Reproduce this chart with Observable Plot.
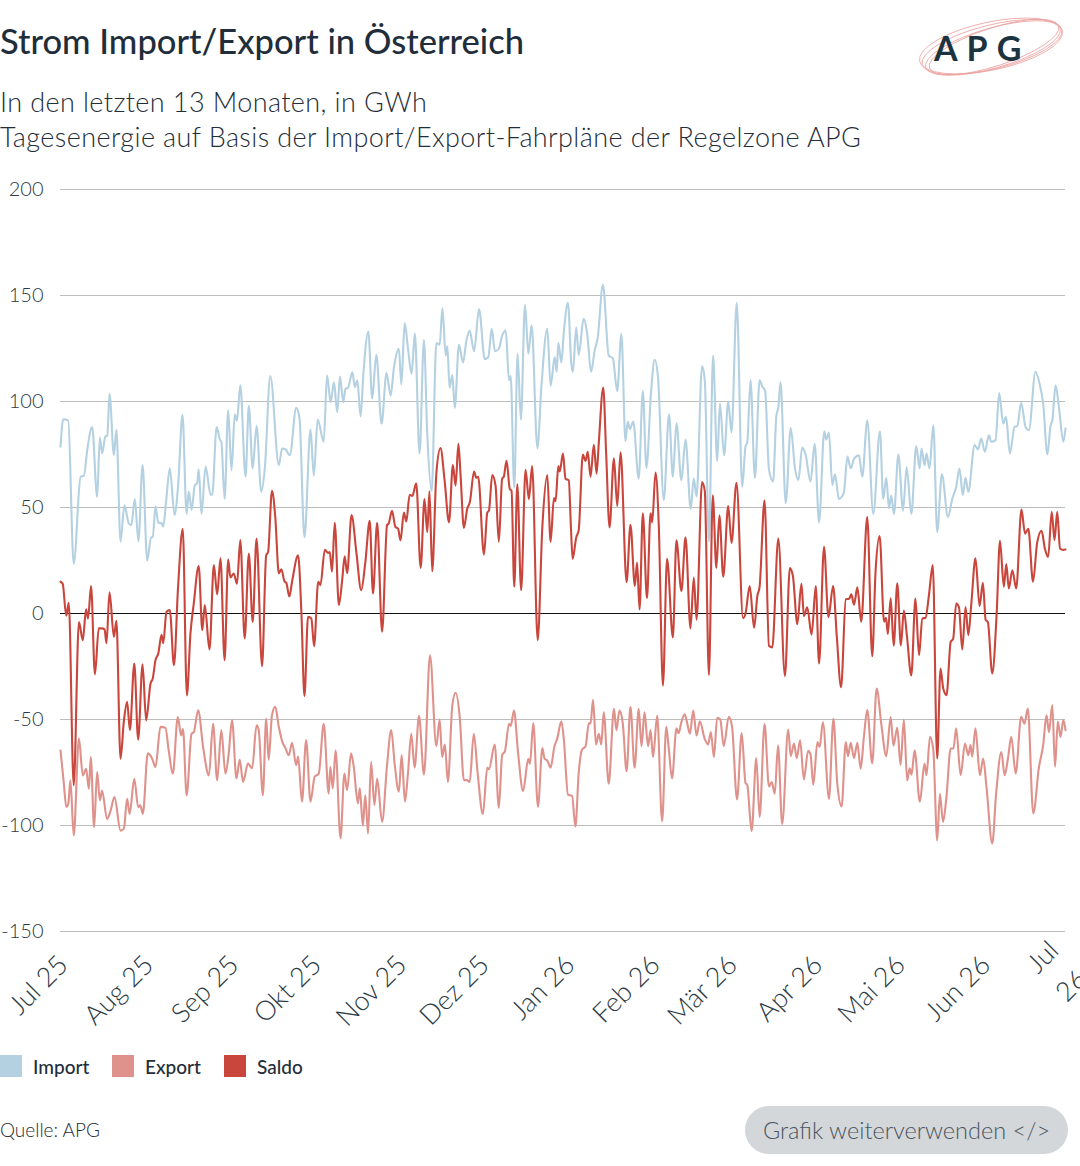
<!DOCTYPE html>
<html lang="de">
<head>
<meta charset="utf-8">
<script src="https://cdn.jsdelivr.net/npm/d3@7"></script>
<script src="https://cdn.jsdelivr.net/npm/@observablehq/plot@0.6"></script>
<style>
  html, body { margin: 0; padding: 0; background: #fff; }
  body { width: 1080px; height: 1166px; position: relative; overflow: hidden; font-family: Lato, "Noto Sans", sans-serif; color: #1f2e3a; }
  .abs { position: absolute; white-space: nowrap; }
  #title { left: 0; top: 21px; font-size: 34.5px; line-height: 40px; font-weight: 500; }
  .sub { left: 0; font-size: 27px; line-height: 32px; font-weight: 300; letter-spacing: 0.4px; }
  #chart { left: 0; top: 160px; }
  .leg { top: 1055px; height: 22px; display: flex; align-items: center; font-size: 19px; font-weight: 500; }
  .sw { width: 22px; height: 22px; margin-right: 11px; }
  #source { left: 0; top: 1118px; font-size: 19px; line-height: 24px; font-weight: 300; }
  #btn { left: 745px; top: 1106px; width: 323px; height: 48px; border-radius: 24px; background: #d4d7da; color: #4a5560; font-size: 23.5px; display: flex; align-items: center; justify-content: center; font-weight: 300; }
</style>
</head>
<body>
<div id="title" class="abs">Strom Import/Export in Österreich</div>
<div class="abs sub" style="top:86px">In den letzten 13 Monaten, in GWh</div>
<div class="abs sub" style="top:121px">Tagesenergie auf Basis der Import/Export-Fahrpläne der Regelzone APG</div>
<svg class="abs" style="left:912px;top:10px" width="160" height="75" viewBox="0 0 160 75">
  <g fill="none" stroke="#ec9a98" stroke-width="0.8" opacity="0.9">
    <ellipse cx="80" cy="37" rx="72" ry="22" transform="rotate(-14 80 37)"/>
    <ellipse cx="81" cy="38" rx="70" ry="20" transform="rotate(-16 81 38)"/>
    <ellipse cx="79" cy="36" rx="73" ry="24" transform="rotate(-12 79 36)"/>
    <ellipse cx="82" cy="37" rx="68" ry="19" transform="rotate(-18 82 37)"/>
  </g>
  <text x="22" y="51" font-family="Lato, sans-serif" font-size="34" font-weight="700" fill="#1b3440" letter-spacing="9">APG</text>
</svg>
<div id="chart" class="abs"></div>
<div class="abs leg" style="left:0"><div class="sw" style="background:#b4d1e2"></div>Import</div>
<div class="abs leg" style="left:112px"><div class="sw" style="background:#df928b"></div>Export</div>
<div class="abs leg" style="left:224px"><div class="sw" style="background:#c9463d"></div>Saldo</div>
<div id="source" class="abs">Quelle: APG</div>
<div id="btn" class="abs">Grafik weiterverwenden &lt;/&gt;</div>
<script>
// Day offsets from 1 July 2025 and values in GWh
const importDays = [0,1,2.8,4.8,7.3,8.5,9.7,11.5,13.3,14.3,15.1,16.3,17,17.8,19.4,20.3,21.8,23.2,24.8,25.7,27,28.3,29.8,31.5,32.9,33.5,34.5,35.5,36.7,37.3,38.4,39.7,41.4,42.7,44.3,45.8,46.6,47.6,48.8,49.6,50.2,51.2,52.7,54.5,55.1,56.7,57.9,58.4,59.6,60.9,62.1,63.3,64.1,65.3,67.2,68.4,69.8,71.2,72.9,74.2,76.2,79.3,80.5,81.7,83.3,85.6,86.8,88.6,90.8,92,93.4,95.6,96.8,98.1,99.3,100.5,101.5,102.7,103.5,104.4,106,106.9,107.8,109,110,111.8,113.2,114.7,116.6,118.4,119.9,121.1,122.9,123.8,125,126.2,127.5,128.7,130.4,132,133.2,134.8,136.5,137.7,138.7,139.9,140.5,141.3,142.3,143.2,144.7,146.2,147.4,148.6,150.2,152,154.1,155.4,156.6,157.8,159.2,160.4,161.7,162.9,163.5,164.8,166,167.2,168.7,169.9,171.1,173.2,174.7,176.8,178,179.5,180.2,180.8,181.9,182.8,184.3,185.5,186.1,187.3,188.2,190,191.3,192.7,194,195.1,197,199.1,200.6,202.2,203.7,205.2,206,206.8,208,210,211.5,212.8,214.5,215.8,217,219.1,221,222.4,223.7,225.5,227,228.9,230,231,233,234,235.5,237,238.5,239.5,241,242.5,243.7,245.6,247.6,248.8,249.4,250.6,252.2,253.9,254.9,255.9,257.3,258.8,260,260.7,261.5,263.4,265.2,266.8,268,269.4,270.6,272.4,273.9,275.5,277.4,278.1,279.1,280.3,281.3,282.7,284.5,285.8,287,288.2,290,291.2,293,295.2,297.6,298.8,299.9,300.9,301.7,302.7,304.3,306,307.3,309,310.8,312,312.7,313.8,314.5,315.6,317,318.4,320.1,322.3,323.9,325.3,326.5,327.7,328.7,329.7,332,333.2,334.4,335.7,337.2,338,339.6,340.9,342.4,343.4,344.8,346.5,347.5,348.9,350.5,351.7,354.1,355.7,356.9,358.4,359.6,360.2,361.4,362.6,364.2,365];
const importValues = [78.7,91.6,91,23.5,64.5,65,77,88,55,83,75.6,83.5,84,103.6,74.8,86.6,33.9,51,42.5,41.7,54,34,70,25,36,36,50.4,43,42.5,41,53.5,68.5,46.5,60,93.7,47,57.5,48.8,60.6,61.4,68,47,69.3,56,56,88,82,81,54,96,67.6,94,91,107.7,64.5,98,68.4,88.4,57.4,68.4,112,70,77.8,77.5,74.7,97,92,36,86.8,65,91.5,81,112.4,99.7,109,95,111.8,99.7,106,106.4,113.8,106.8,110,93,113,133,101.3,122,89.5,113.4,102.8,116,124.8,108,137,125,113,132,75.4,129,84.7,57.7,127.6,126.8,144,121.7,126,106.6,112.5,97,126.8,118.4,128.5,133.5,123.7,143.6,120,121,134.3,123.7,125,131,133.5,110,112,59.4,122.5,91.4,145.6,122.5,136,78,108,134.3,107.4,121,114,127.6,118.4,132.7,146.6,118,114,135,122,139,131.8,114,124,130,155,121.7,120.4,104.9,131.8,81.3,90.6,87,90.6,63.6,104.9,68.7,104.9,119.7,111.6,53.5,94,64.5,89.7,62.8,82,49.3,63.6,55.2,116.7,110,34,121.7,72,99,74.6,99.8,85.5,146.6,59.8,79,80.5,110,64,110,107,105,68,62.3,93.4,97,109,52,87.5,68,63,78.3,75,62.3,80,43,86,82,85.4,60.6,65.7,54,57,74,68.5,73,74.6,64.5,91,47,86,54,64,49.7,55.6,47,75,48.5,69,47,79,68.4,77.8,70,75.5,68.4,88.8,38.5,65.7,45.6,54.2,59.7,68.4,55.8,64,57.4,79.4,77.4,82.5,76.3,84,81,81.8,104,89.6,92.8,75.5,88,88.5,99.4,88,86.5,114,107.7,99,75,88.8,91,107.7,97.5,81,87.3];

const exportDays = [0,1.2,2.1,2.8,3.6,4.8,6.7,8.1,9.3,10.3,11,12.2,13.3,14.3,15.1,16.9,18.2,19.6,21.8,23,24.2,25.1,26.8,28.2,29,29.9,31.7,33.3,34.5,36.3,38.1,39.3,40.8,42.6,43.8,44.5,45.8,47.6,48.4,50,51.8,53.9,55.4,56.9,58.4,59.9,61.1,62.3,63.9,65.1,66.3,68.1,69.6,71.2,72,73.5,74.7,75.6,76.8,78,79.3,80.7,81.7,82.9,84.1,85.6,86.3,87.7,89.2,90.8,92.3,93.8,95.6,97.4,98,98.9,99.9,101.7,103.1,104.1,105.5,106.5,108,108.7,109.8,110.7,111.7,112.8,114,115,116.8,118.6,120.1,121.4,122.9,123.9,125.1,126.2,127.4,128.6,130.2,132,134.2,136.5,137.7,138.6,139.6,140.7,142.3,143.5,145,146.5,147.6,148.6,150.1,151.5,153.4,155,155.6,157.7,159.2,160.4,161.4,162.9,163.5,164.7,166.2,168,169.9,170.5,171.7,173.4,175,175.8,176.8,178,179.4,180.4,181.9,182.8,184.3,185.8,187,188.2,189.4,190.7,191.9,192.5,193.4,194.5,195.5,196.4,197.3,199.1,201,201.9,203,204.2,205.6,207,208.5,210,211,212.1,213.4,214.3,215.2,216.7,218.5,220,220.9,222.1,223.7,224.5,225.4,226.7,227.6,228.6,229.8,231,232.2,234,235.2,236.2,237.3,238.5,239.6,240.9,242.7,243.9,245.7,247.4,248.8,249.4,251,252.7,253.9,255.7,257.3,258.3,259.4,260.6,262.1,264.3,265.2,266.4,267.4,268.6,270,271.5,272.4,273.4,274.9,275.7,276.9,279.1,280.7,282.1,283.7,285.2,286,287,288.2,289.4,290.6,291.8,293,294.8,296.4,298.1,299.9,301.5,302.5,303.9,305.1,306.3,307.5,308.4,309.1,310.2,312.1,313.8,314.5,315.8,317,318.4,319.4,320.5,321.7,323.3,324.3,325.3,326.9,328.5,329.7,330.5,331.1,332.3,333.9,335.1,336.3,338.4,339.8,341.7,342.9,344.1,345.3,346.9,348.9,350.1,351.3,353.3,355.3,356.9,358.1,359,360.2,361.2,362.2,363.2,364.2,365];
const exportValues = [-64.6,-80,-91.3,-90,-78.7,-104.7,-59,-76.4,-73.2,-82.7,-67.7,-100.8,-74.8,-88.2,-83.5,-96.9,-93,-86.6,-102.4,-101.6,-87.4,-94.5,-78,-91.3,-90.5,-94.5,-66,-68.5,-72.4,-53.5,-53.9,-64.6,-75.6,-48.8,-57.5,-54.5,-85.8,-56.7,-56,-45.7,-63,-76.4,-52,-78.7,-55,-75.6,-66,-50.3,-77.8,-69,-79.4,-70.8,-73,-52.7,-55,-85.7,-49.5,-69,-48,-44,-53.5,-61,-63.5,-66.8,-61,-71.5,-67.5,-88.8,-59.7,-88.8,-77,-75.5,-52,-85,-72.3,-82.5,-64.5,-106,-75.5,-83.3,-66,-72.3,-89.6,-82.5,-100,-85.7,-103.8,-70,-90.4,-77.8,-98.3,-71.5,-55,-71.5,-84,-66.8,-88.7,-75.3,-56.7,-72.7,-48.3,-76,-19.7,-62.6,-50,-67.7,-61.8,-79.5,-43.3,-37.4,-49,-78.6,-78.6,-79.5,-56.7,-75.3,-94.6,-72.7,-73.5,-61.8,-91.7,-66.8,-65,-52,-53,-45.8,-66,-83.7,-68.5,-71,-51.7,-91.2,-63.5,-68.5,-69.4,-72.7,-62.6,-59,-50.8,-59.3,-85.4,-86,-100.5,-75.3,-64.3,-62.6,-51.7,-52,-40.7,-61.8,-56.7,-61.8,-46.6,-80.3,-45,-55,-45.8,-51.7,-74.4,-44,-72.7,-45,-62.6,-46.6,-62.6,-55,-67.7,-48.3,-98,-53.4,-63.5,-77.8,-54.2,-56.5,-51.7,-47.5,-51.7,-56.7,-45.8,-57.6,-50.8,-59.3,-61.8,-55.9,-67.7,-49.2,-50,-62.6,-48.7,-53.4,-87.7,-56.4,-80,-80.8,-102.7,-68.2,-96,-52.2,-81.6,-79.5,-85,-62.3,-99.3,-54.7,-67.3,-61.4,-68.2,-59.8,-78.3,-64.8,-66.5,-80.8,-60.6,-63,-51.3,-87.5,-49.7,-80,-91,-60.6,-67.3,-61,-68.2,-61,-73.2,-58,-45.5,-70.7,-35.4,-52.2,-67.3,-48.8,-62.3,-53.9,-71.5,-50,-78.8,-73,-76,-64.5,-88.8,-70.8,-76.3,-58.2,-64.5,-107,-85,-98.3,-87.4,-63.7,-63.7,-54.2,-76.3,-61.3,-66.8,-62,-67.5,-54.2,-76.3,-68.4,-81.8,-108.5,-85,-65.3,-76.3,-68.4,-58.2,-75.5,-48.7,-52,-44.8,-94.3,-73,-62,-48,-56,-43.2,-72.3,-51,-58.2,-50.3,-55];

const saldoDays = [0,0.8,2.1,3,4.8,6.7,8.1,9.3,10,11.1,12.5,13.9,15,16,16.7,17.8,19.4,20.3,21.8,23,24.2,25.2,26.8,28.2,29.8,31.1,32.7,33.5,34.5,35.5,36.7,37.3,38.5,39.7,41.2,42.7,44.4,45.9,47.2,48.4,50.2,51.5,52.4,54.1,55.7,56.9,58.1,59.6,60.9,61.7,62.9,64.1,65.3,66.9,68.4,69.8,71.2,73.2,74.7,75.4,76.8,78,79.3,80.2,81.4,82,83.1,84.1,86.3,87.5,88.6,89.9,91.1,92.1,93.6,94.4,96,97.2,97.8,98.6,99.6,101.1,102.3,103.2,104.1,105.7,107.5,109.2,110.7,112.3,113.5,115,116.8,118.6,119.2,120.4,121.6,122.6,123.5,124.7,125.6,126.8,127.8,129.2,130.8,132.2,133.2,134,135,136.5,138,139.5,141.1,142.5,143.5,144.5,145.3,146.5,147.7,148.7,150.2,151,151.7,153.8,155,155.6,156.8,158,159.2,160.4,161,162,163.2,163.8,164.8,165.9,167.3,168.9,170.1,171.3,173.3,175,176.8,178,179.2,179.8,180.8,181.3,182.5,183.4,184.6,185.4,186,187.3,188.2,189.7,190.7,191.5,192.5,193.7,194.7,195.5,197.1,198.2,199.4,201,202.2,203.4,205.6,207,208.6,209.4,210.3,211.5,213,214.3,214.9,216.1,217.3,218.8,220.3,222.4,223.7,225.5,227,228.8,230,231,233,234,235.5,236.9,238.2,239.3,240.7,242.5,243.7,245.5,247.9,248.8,250.3,251.9,253.1,253.9,255.7,257.3,258.5,260.7,263.1,264.9,266,267.6,269.1,270,271.2,272.8,274.3,275.5,277.3,278.9,280.6,281.9,283.5,285.2,286.4,287.2,288.2,289.4,290.8,293,294.8,296,297.5,299.1,299.8,300.5,301.5,302.6,303.9,305.2,306.3,307.4,309,310.5,311.8,313,314.2,315.4,316.8,318.4,319.6,320.6,321.8,323.3,324.2,325.3,326.3,327.5,328.7,329.7,330.8,332.3,333.8,335,336,336.8,338.4,340,341.2,342.6,343.5,344.4,345.7,347.1,349,350.3,351.5,353.2,354.7,356.3,357.5,358.7,360,361,362,363,364.2,365];
const saldoValues = [15,14,-1,5,-81,-4,-12.6,2,-2.4,13,-28.7,-7,-7,-7.5,-14,10,-11,-3.5,-68.5,-51,-41.7,-55,-23.6,-59.5,-24,-50.4,-33,-30.7,-22,-19,-10,-14,0.8,1.6,-24.4,12.6,40,-38.6,-9.4,4.7,22.4,-7.9,4,-17,22.8,9,26,-22,25.5,17,18.9,14,34.6,-11.8,28.3,-4,35.4,-24.8,27.5,29,57.9,45.6,18.9,20.8,15,14.5,8,15,27.5,0,-39,-1.6,-2.4,-15.4,15,13.4,30,28.6,29,19.7,42.8,4,15.7,27,19,46.4,28.3,11,24,43.7,9.4,42.8,-8.6,41.7,42.5,48.4,40.9,40,34.5,47.6,43.4,56,55.5,61.4,21.5,54,38.4,57.7,19.9,66,78,62.8,43,70,60.3,80,65.3,40.4,49.3,52.7,67,64,64.5,27.8,47.6,48.5,65.3,60.3,33.8,63.6,64.5,72,58.6,58,12.6,61,11,67.8,54,69.5,-12.6,40.9,65.3,33.8,54.4,53,69.5,67,75.4,63.6,62.8,40,25.8,35.9,39.2,75,72,76.3,64.5,79.6,66,80.5,106.6,74.6,40.6,73.2,50.7,76,14.8,41.8,13,24,1.9,47.3,7.2,47.3,43,66.5,41,-34,25.8,-11.3,34.5,10.6,35.9,-7,17,-2.9,62,57.7,-29,55.7,21.5,46.3,17.3,50.7,33.3,61.7,-2.2,0,13,-6.7,8.4,12.6,53.4,-15.2,-16,35.4,-29.5,21.4,17.7,-5,14,-1.2,2.9,-10,13,-23.6,31.5,-1.7,13,-10,-34.8,6.7,7,9,4.2,12.3,-3.9,45.5,-20.2,19.4,36.5,-3.9,-2,-9.6,7.2,-15.2,14.3,-15.1,1.4,-10.4,-29.2,7,-19.7,-2.4,-2,8.6,22.8,-68.4,-26,-35.4,-38.5,-13.4,-12,4.7,3,-17,3,-10.2,4.7,26,3.5,14.5,-3,-4,-28.3,0,34.3,12.6,23.3,11.8,20.4,11.8,49,37.7,40,15,33.3,39,30.7,26.7,48,34.6,48,30.7,30,30.2];

const yTicks = [-150, -100, -50, 0, 50, 100, 150, 200];
const monthLabels = ["Jul 25","Aug 25","Sep 25","Okt 25","Nov 25","Dez 25","Jan 26","Feb 26","Mär 26","Apr 26","Mai 26","Jun 26","Jul\n26"];
const seriesNames = ["Import", "Export", "Saldo"];
const seriesColors = ["#b4d1e2", "#df928b", "#c9463d"];

const start = Date.UTC(2025, 6, 1);
const toDate = d => new Date(start + d * 864e5);
const monthDates = monthLabels.map((_, i) => new Date(Date.UTC(2025, 6 + i, 1)));
const labelOf = new Map(monthDates.map((d, i) => [+d, monthLabels[i]]));

const build = (days, vals, name) => days.map((d, i) => ({date: toDate(d), value: vals[i], series: name}));
const rows = [
  ...build(importDays, importValues, "Import"),
  ...build(exportDays, exportValues, "Export"),
  ...build(saldoDays, saldoValues, "Saldo")
];

const chart = Plot.plot({
  width: 1080,
  height: 880,
  marginTop: 29,
  marginBottom: 109,
  marginLeft: 60,
  marginRight: 15,
  style: {fontFamily: "Lato, 'Noto Sans', sans-serif", color: "#2b3a45", background: "transparent", overflow: "visible"},
  x: {type: "utc", domain: [toDate(0), toDate(365)]},
  y: {domain: [-150, 200]},
  color: {domain: seriesNames, range: seriesColors},
  marks: [
    Plot.gridY(yTicks, {stroke: "#bdbdbd", strokeOpacity: 1}),
    Plot.axisY(yTicks, {tickSize: 0, tickPadding: 17, fontSize: 20, fontWeight: 300, label: null, tickFormat: d => String(d)}),
    Plot.axisX(monthDates, {tickSize: 0, tickRotate: -45, tickPadding: 26, fontSize: 27, fontWeight: 300, lineHeight: 1.5, label: null, tickFormat: d => labelOf.get(+d)}),
    Plot.ruleY([0], {stroke: "#111", strokeWidth: 1}),
    Plot.line(rows, {x: "date", y: "value", z: "series", stroke: "series", strokeWidth: 2.1, curve: "monotone-x"})
  ]
});
document.getElementById("chart").appendChild(chart);
</script>
</body>
</html>
